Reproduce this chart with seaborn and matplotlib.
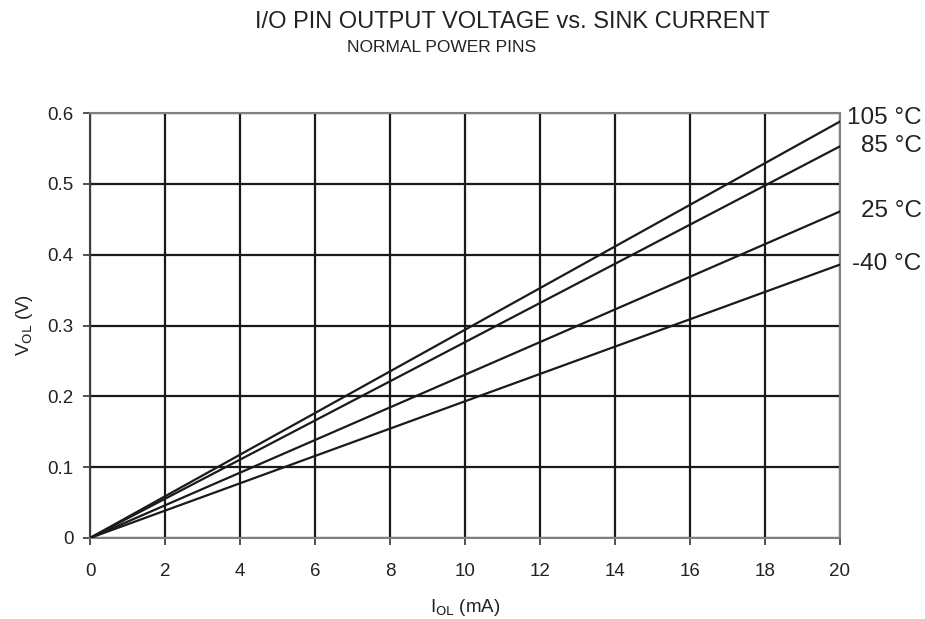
import pandas as pd
import matplotlib.pyplot as plt
import matplotlib.transforms as mtransforms
import seaborn as sns

# Data (lines are straight from the origin)
current_ma = [0, 20]
temps = ['105 °C', '85 °C', '25 °C', '-40 °C']
vol_105 = [0.0, 0.588]
vol_85 = [0.0, 0.553]
vol_25 = [0.0, 0.461]
vol_m40 = [0.0, 0.386]
label_y = [0.593, 0.553, 0.462, 0.387]

sns.set_theme(style='white')
plt.rcParams['font.family'] = ['Liberation Sans', 'DejaVu Sans']

rows = []
for temp, vals in zip(temps, [vol_105, vol_85, vol_25, vol_m40]):
    for x, y in zip(current_ma, vals):
        rows.append({'I': x, 'V': y, 'temp': temp})
df = pd.DataFrame(rows)

fig = plt.figure(figsize=(9.25, 6.19), dpi=100)
ax = fig.add_axes([0.0973, 0.1309, 0.8108, 0.6865])

sns.lineplot(data=df, x='I', y='V', hue='temp', palette=['#1a1a1a'] * 4,
             linewidth=1.6, legend=False, ax=ax, zorder=3)

ax.set_xlim(0, 20)
ax.set_ylim(0, 0.6)
ax.set_xticks(range(0, 21, 2))
ax.set_yticks([0, 0.1, 0.2, 0.3, 0.4, 0.5, 0.6])
ax.set_yticklabels(['0', '0.1', '0.2', '0.3', '0.4', '0.5', '0.6'])
ax.grid(True, color='#1a1a1a', linewidth=1.6)
ax.set_axisbelow(True)
for side in ['top', 'right', 'bottom']:
    ax.spines[side].set_color('#808080')
    ax.spines[side].set_linewidth(1.5)
ax.spines['left'].set_color('#404040')
ax.spines['left'].set_linewidth(1.5)
ax.tick_params(axis='both', direction='out', length=5, width=1.2, color='#333333',
               labelsize=13.5, labelcolor='#222222', left=True, bottom=True)
ax.tick_params(axis='x', pad=13)
ax.tick_params(axis='y', pad=7)

ax.set_xlabel(r'I$_{\mathrm{OL}}$ (mA)', fontsize=13.5, color='#222222')
ax.set_ylabel(r'V$_{\mathrm{OL}}$ (V)', fontsize=13.5, color='#222222')
ax.xaxis.set_label_coords(0.5, -0.138)
ax.yaxis.set_label_coords(-0.074, 0.5)

trans = mtransforms.blended_transform_factory(ax.transAxes, ax.transData)
for temp, y in zip(temps, label_y):
    ax.text(1.109, y, temp, transform=trans, ha='right', va='center',
            fontsize=17.5, color='#222222')

fig.text(0.554, 0.965, 'I/O PIN OUTPUT VOLTAGE vs. SINK CURRENT', ha='center',
         va='center', fontsize=17, color='#222222')
fig.text(0.477, 0.923, 'NORMAL POWER PINS', ha='center', va='center',
         fontsize=12.5, color='#222222')

fig.savefig('out.png', dpi=100)
